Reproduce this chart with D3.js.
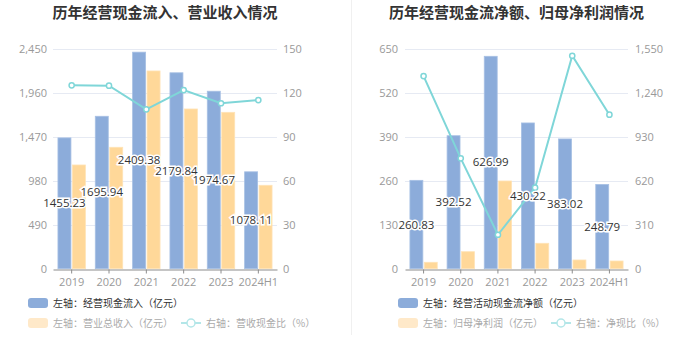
<!DOCTYPE html>
<html><head><meta charset="utf-8">
<script src="https://cdn.jsdelivr.net/npm/d3@7"></script>
<style>
html,body{margin:0;padding:0;background:#fff;}
svg{display:block;font-family:"Noto Sans CJK SC","Noto Sans",sans-serif;}
</style></head>
<body><svg id="c" width="700" height="360"></svg>
<script>
const categories = ["2019","2020","2021","2022","2023","2024H1"];
// left chart
const cashInflow = [1455.23,1695.94,2409.38,2179.84,1974.67,1078.11];
const revenue = [1154,1351,2200,1777,1740,928];
const cashRevenueRatio = [124.9,124.7,108.6,121.7,112.7,114.9];
const leftTicksL = [0,490,980,1470,1960,2450];
const leftTicksR = [0,30,60,90,120,150];
// right chart
const netCashFlow = [260.83,392.52,626.99,430.22,383.02,248.79];
const netProfit = [18.9,50.2,258.9,75.0,25.7,22.7];
const netCashRatio = [1356,777,239,570,1499,1084];
const rightTicksL = [0,130,260,390,520,650];
const rightTicksR = [0,310,620,930,1240,1550];

const BLUE="#8cacda", ORANGE="#ffd899", TEAL="#7fd6d8";
const svg = d3.select("#c");
const fmt = d3.format(",");

// separator
svg.append("line").attr("x1",351.5).attr("x2",351.5).attr("y1",0).attr("y2",335)
  .attr("stroke","#f0f0f0").attr("stroke-width",1);

function chart(o){
  const g = svg.append("g");
  const top=48.5, bottom=268.7;
  g.append("text").attr("x",(o.x0+o.x1)/2).attr("y",17.5).attr("text-anchor","middle")
    .attr("font-size",15).attr("font-weight","bold").attr("fill","#333").text(o.title);
  const x = d3.scaleBand().domain(categories).range([o.x0,o.x1]).paddingInner(0.265).paddingOuter(0.1325);
  const xs = d3.scaleBand().domain([0,1]).range([0,x.bandwidth()]).paddingInner(0.1);
  const yL = d3.scaleLinear().domain([0,o.ticksL[o.ticksL.length-1]]).range([bottom,top]);
  const yR = d3.scaleLinear().domain([0,o.ticksR[o.ticksR.length-1]]).range([bottom,top]);
  // grid
  g.selectAll(".grid").data(o.ticksL.slice(1)).join("line")
    .attr("x1",o.x0).attr("x2",o.x1).attr("y1",d=>Math.round(yL(d))+0.5).attr("y2",d=>Math.round(yL(d))+0.5)
    .attr("stroke","#e6eaf3");
  // axis labels
  g.selectAll(".tl").data(o.ticksL).join("text")
    .attr("x",o.lx).attr("y",d=>yL(d)+4).attr("text-anchor","end")
    .attr("font-size",11).attr("fill","#999").attr("font-family","'Open Sans',sans-serif").text(d=>fmt(d));
  g.selectAll(".tr").data(o.ticksR).join("text")
    .attr("x",o.rx).attr("y",d=>yR(d)+4).attr("text-anchor","start")
    .attr("font-size",11).attr("fill","#999").attr("font-family","'Open Sans',sans-serif").text(d=>fmt(d));
  // bars
  const cats = categories.map((c,i)=>({c,i}));
  g.selectAll(".b1").data(cats).join("rect")
    .attr("x",d=>x(d.c)+xs(0)).attr("width",xs.bandwidth())
    .attr("y",d=>yL(o.s1[d.i])).attr("height",d=>bottom-yL(o.s1[d.i]))
    .attr("fill",BLUE).attr("stroke","#a7c0e4").attr("stroke-width",0.8);
  g.selectAll(".b2").data(cats).join("rect")
    .attr("x",d=>x(d.c)+xs(1)).attr("width",xs.bandwidth())
    .attr("y",d=>yL(o.s2[d.i])).attr("height",d=>bottom-yL(o.s2[d.i]))
    .attr("fill",ORANGE).attr("stroke","#ffe3b6").attr("stroke-width",0.8);
  // x axis
  const ax = g.append("g").attr("transform",`translate(0,${Math.round(bottom)+0.5})`)
    .call(d3.axisBottom(x).tickSize(4).tickSizeOuter(0));
  ax.select(".domain").attr("stroke","#8c8c8c");
  ax.selectAll(".tick line").attr("stroke","#8c8c8c");
  ax.selectAll(".tick text").attr("fill","#999").attr("font-size",11).attr("dy","0.85em")
    .attr("font-family","'Open Sans',sans-serif");
  // line
  const cx = d=>x(d.c)+x.bandwidth()/2;
  g.append("path").datum(cats)
    .attr("d",d3.line().x(cx).y(d=>yR(o.s3[d.i])))
    .attr("fill","none").attr("stroke",TEAL).attr("stroke-width",2);
  g.selectAll(".pt").data(cats).join("circle")
    .attr("cx",cx).attr("cy",d=>yR(o.s3[d.i])).attr("r",2.6)
    .attr("fill","#fff").attr("stroke",TEAL).attr("stroke-width",1.5);
  // labels
  g.selectAll(".lb").data(cats).join("text")
    .attr("x",d=>x(d.c)+xs(0)+xs.bandwidth()/2)
    .attr("y",d=>(yL(o.s1[d.i])+bottom)/2+4)
    .attr("text-anchor","middle").attr("font-size",11.5).attr("fill","#333")
    .attr("stroke","#fff").attr("stroke-width",3).attr("paint-order","stroke")
    .attr("font-family","'Open Sans',sans-serif")
    .text(d=>o.s1[d.i].toFixed(2));
  // legend
  const lg = g.append("g");
  const lx = o.legX;
  lg.append("rect").attr("x",lx).attr("y",298).attr("width",20).attr("height",10).attr("rx",3).attr("fill",BLUE);
  lg.append("text").attr("x",lx+25).attr("y",307).attr("font-size",10).attr("fill","#333").text(o.leg1);
  lg.append("rect").attr("x",lx).attr("y",318).attr("width",20).attr("height",10).attr("rx",3).attr("fill","#ffe9c9");
  lg.append("text").attr("x",lx+25).attr("y",327).attr("font-size",10).attr("fill","#aaa").text(o.leg2);
  lg.append("line").attr("x1",o.leg3X).attr("x2",o.leg3X+20).attr("y1",323).attr("y2",323).attr("stroke","#b3e6e8").attr("stroke-width",2);
  lg.append("circle").attr("cx",o.leg3X+10).attr("cy",323).attr("r",4).attr("fill","#fff").attr("stroke","#b3e6e8").attr("stroke-width",1.5);
  lg.append("text").attr("x",o.leg3X+25).attr("y",327).attr("font-size",10).attr("fill","#aaa").text(o.leg3);
}

chart({title:"历年经营现金流入、营业收入情况",x0:53,x1:277,lx:47,rx:283,
  ticksL:leftTicksL,ticksR:leftTicksR,s1:cashInflow,s2:revenue,s3:cashRevenueRatio,
  legX:28,leg3X:181,leg1:"左轴：经营现金流入（亿元）",leg2:"左轴：营业总收入（亿元）",leg3:"右轴：营收现金比（%）"});
chart({title:"历年经营现金流净额、归母净利润情况",x0:405,x1:628,lx:398,rx:635,
  ticksL:rightTicksL,ticksR:rightTicksR,s1:netCashFlow,s2:netProfit,s3:netCashRatio,
  legX:398,leg3X:551,leg1:"左轴：经营活动现金流净额（亿元）",leg2:"左轴：归母净利润（亿元）",leg3:"右轴：净现比（%）"});
</script></body></html>
